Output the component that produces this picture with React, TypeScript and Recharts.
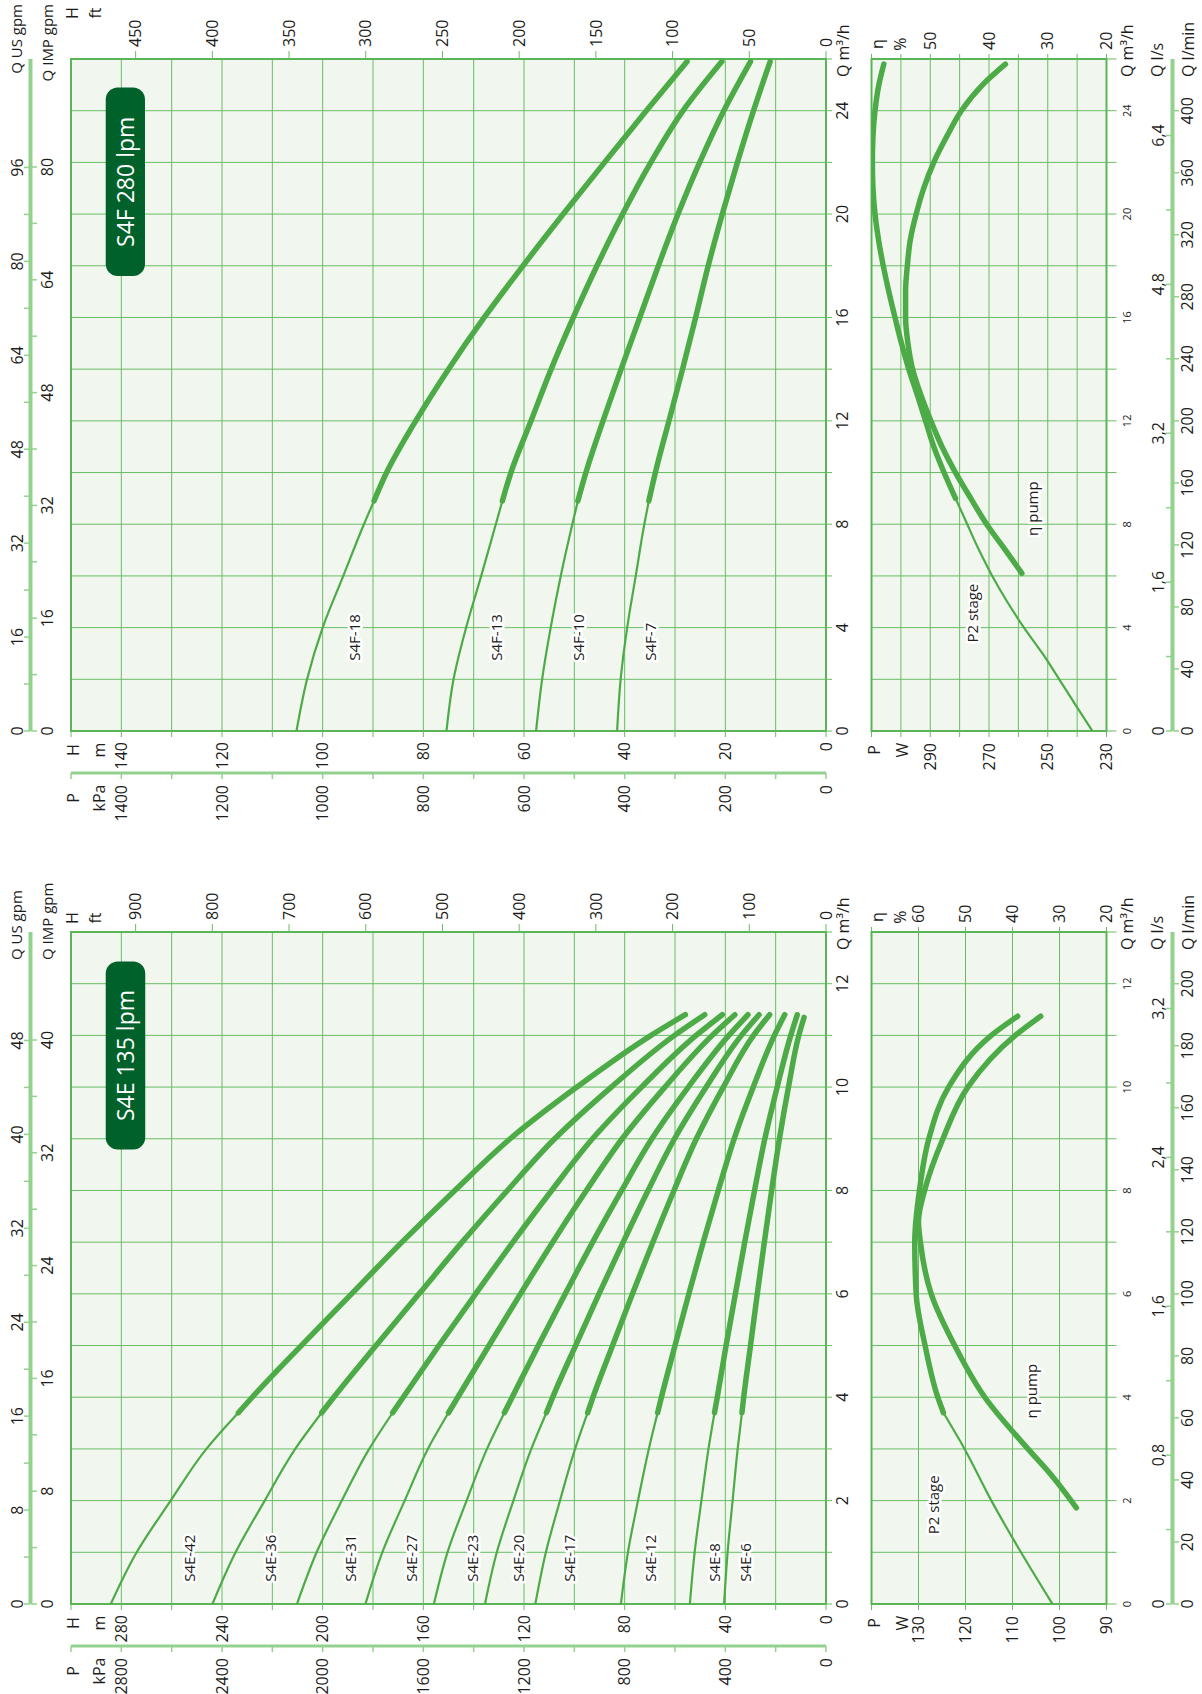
import React from 'react';
import {
  ComposedChart,
  LineChart,
  Line,
  XAxis,
  YAxis,
  CartesianGrid,
  ReferenceArea,
  ReferenceDot,
} from 'recharts';

type Pt = [number, number];

// the datasheet is laid out landscape and turned a quarter turn to the left
const PAGE_W = 1202;
const PAGE_H = 1694;
const SHEET_W = 1694;
const SHEET_H = 1202;

const H_TOP = 71;
const H_BOTTOM = 826;
const LOW_TOP = 871.5;
const LOW_BOTTOM = 1106.5;
const GPM_LINE = 30;
const FLOW_LINE = 1172;

const FONT = "'Open Sans', 'Noto Sans', 'DejaVu Sans', sans-serif";
const INK = '#1d1d1b';
const GREEN = '#4dab47';
const GRID = '#68bd63';
const FRAME = '#5ab556';
const STRIP = '#93d28e';
const PAPER = '#f1f7ef';
const BADGE = '#00622a';

const M3H_PER_USGPM = 0.22712;
const M3H_PER_IMPGPM = 0.27277;
const FT_PER_M = 3.28084;

// ---------------- S4E 135 lpm : H [m] over Q [m3/h] ----------------
const e42Thin: Pt[] = [[0, 284.2], [1, 273.9], [2, 260.4], [3, 246.2], [3.7, 233.5]];
const e42Thick: Pt[] = [[3.7, 233.5], [4, 228.0], [5, 208.5], [6, 188.5], [7, 168.5], [8, 147.5], [9, 125.5], [10, 99.0], [11, 69.5], [11.4, 55.9]];
const e36Thin: Pt[] = [[0, 243.8], [1, 234.6], [2, 223.0], [3, 210.9], [3.7, 200.4]];
const e36Thick: Pt[] = [[3.7, 200.4], [4, 195.6], [5, 178.8], [6, 161.7], [7, 144.6], [8, 126.6], [9, 107.8], [10, 85.3], [11, 60.2], [11.4, 48.2]];
const e31Thin: Pt[] = [[0, 210.2], [1, 202.4], [2, 192.4], [3, 181.5], [3.7, 172.2]];
const e31Thick: Pt[] = [[3.7, 172.2], [4, 168.0], [5, 153.8], [6, 139.2], [7, 124.4], [8, 109.0], [9, 92.8], [10, 73.3], [11, 51.6], [11.4, 41.2]];
const e27Thin: Pt[] = [[0, 183.0], [1, 176.3], [2, 167.4], [3, 158.2], [3.7, 150.0]];
const e27Thick: Pt[] = [[3.7, 150.0], [4, 146.3], [5, 133.9], [6, 121.4], [7, 108.6], [8, 95.2], [9, 81.0], [10, 64.0], [11, 45.2], [11.4, 36.2]];
const e23Thin: Pt[] = [[0, 155.8], [1, 150.4], [2, 142.8], [3, 134.7], [3.7, 127.8]];
const e23Thick: Pt[] = [[3.7, 127.8], [4, 124.7], [5, 114.3], [6, 103.6], [7, 92.7], [8, 81.2], [9, 69.2], [10, 54.7], [11, 38.6], [11.4, 31.0]];
const e20Thin: Pt[] = [[0, 135.5], [1, 130.8], [2, 124.2], [3, 117.1], [3.7, 111.1]];
const e20Thick: Pt[] = [[3.7, 111.1], [4, 108.6], [5, 99.5], [6, 90.2], [7, 80.6], [8, 70.7], [9, 60.2], [10, 47.6], [11, 33.6], [11.4, 26.6]];
const e17Thin: Pt[] = [[0, 115.5], [1, 111.3], [2, 105.7], [3, 99.7], [3.7, 94.7]];
const e17Thick: Pt[] = [[3.7, 94.7], [4, 92.6], [5, 84.8], [6, 76.9], [7, 68.8], [8, 60.4], [9, 51.5], [10, 40.8], [11, 28.8], [11.4, 22.4]];
const e12Thin: Pt[] = [[0, 81.5], [1, 78.7], [2, 74.7], [3, 70.4], [3.7, 66.9]];
const e12Thick: Pt[] = [[3.7, 66.9], [4, 65.4], [5, 60.0], [6, 54.5], [7, 48.8], [8, 42.8], [9, 36.5], [10, 28.9], [11, 20.5], [11.4, 16.4]];
const e8Thin: Pt[] = [[0, 54.1], [1, 52.2], [2, 49.5], [3, 46.7], [3.7, 44.3]];
const e8Thick: Pt[] = [[3.7, 44.3], [4, 43.2], [5, 39.7], [6, 36.0], [7, 32.3], [8, 28.4], [9, 24.3], [10, 19.4], [11, 14.0], [11.4, 11.4]];
const e6Thin: Pt[] = [[0, 40.5], [1, 39.1], [2, 37.1], [3, 35.1], [3.7, 33.4]];
const e6Thick: Pt[] = [[3.7, 33.4], [4, 32.7], [5, 30.0], [6, 27.3], [7, 24.5], [8, 21.6], [9, 18.5], [10, 14.9], [11, 10.8], [11.35, 8.7]];

const eNames = ['S4E-42', 'S4E-36', 'S4E-31', 'S4E-27', 'S4E-23', 'S4E-20', 'S4E-17', 'S4E-12', 'S4E-8', 'S4E-6'];
const eTagH = [253.1, 220.9, 189.2, 165.0, 140.7, 122.5, 102.1, 70.1, 44.7, 32.1];

// P2 stage [W] and pump efficiency [%]
const eP2Thin: Pt[] = [[0, 101.5], [1, 108.2], [2, 114.5], [3, 120.2], [3.7, 124.7]];
const eP2Thick: Pt[] = [[3.7, 124.7], [4, 125.9], [5, 128.6], [6, 130.5], [7, 130.8], [8, 129.8], [9, 127.8], [10, 123.6], [11, 114.5], [11.37, 108.9]];
const eEta: Pt[] = [[1.86, 26.4], [2.5, 31.8], [3, 36.7], [4, 45.9], [5, 52.3], [6, 57.3], [7, 59.6], [7.4, 60.0], [8, 58.7], [9, 54.8], [10, 49.5], [11, 39.4], [11.37, 34.0]];

const eQTicks = [0, 1, 2, 3, 4, 5, 6, 7, 8, 9, 10, 11, 12, 13];
const eQLabels = [0, 2, 4, 6, 8, 10, 12];
const eHTicks = [0, 20, 40, 60, 80, 100, 120, 140, 160, 180, 200, 220, 240, 260, 280, 300];
const eHLabels = [0, 40, 80, 120, 160, 200, 240, 280];
const eFtTicks = [0, 100, 200, 300, 400, 500, 600, 700, 800, 900];
const eKpaTicks = [0, 200, 400, 600, 800, 1000, 1200, 1400, 1600, 1800, 2000, 2200, 2400, 2600, 2800, 3000];
const eKpaLabels = [0, 400, 800, 1200, 1600, 2000, 2400, 2800];
const eUsTicks = [0, 4, 8, 12, 16, 20, 24, 28, 32, 36, 40, 44, 48];
const eUsLabels = [0, 8, 16, 24, 32, 40, 48];
const eImpTicks = [0, 4, 8, 12, 16, 20, 24, 28, 32, 36, 40];
const eImpLabels = [0, 8, 16, 24, 32, 40];
const eLsTicks = [0, 0.4, 0.8, 1.2, 1.6, 2.0, 2.4, 2.8, 3.2];
const eLsLabels = [0, 0.8, 1.6, 2.4, 3.2];
const eLminTicks = [0, 20, 40, 60, 80, 100, 120, 140, 160, 180, 200];
const eWTicks = [90, 100, 110, 120, 130, 140];
const eWLabels = [90, 100, 110, 120, 130];
const eEtaTicks = [20, 30, 40, 50, 60, 70];
const eEtaLabels = [20, 30, 40, 50, 60];

// ---------------- S4F 280 lpm ----------------
const f18Thin: Pt[] = [[0, 105.2], [2, 103.1], [4, 100.0], [6, 95.9], [8, 91.8], [8.9, 89.8]];
const f18Thick: Pt[] = [[8.9, 89.8], [10, 87.3], [12, 81.5], [14, 75.0], [16, 67.9], [18, 60.2], [20, 52.2], [22, 44.0], [24, 35.7], [25.9, 27.6]];
const f13Thin: Pt[] = [[0, 75.4], [2, 74.0], [4, 71.5], [6, 68.5], [8, 65.6], [8.9, 64.3]];
const f13Thick: Pt[] = [[8.9, 64.3], [10, 62.6], [12, 58.6], [14, 54.6], [16, 50.2], [18, 45.5], [20, 40.4], [22, 34.8], [24, 28.4], [25.9, 20.7]];
const f10Thin: Pt[] = [[0, 57.6], [2, 56.4], [4, 54.7], [6, 52.7], [8, 50.4], [8.9, 49.3]];
const f10Thick: Pt[] = [[8.9, 49.3], [10, 47.7], [12, 44.3], [14, 40.7], [16, 37.0], [18, 33.3], [20, 29.4], [22, 25.1], [24, 20.3], [25.9, 15.0]];
const f7Thin: Pt[] = [[0, 41.5], [2, 40.8], [4, 39.5], [6, 37.8], [8, 36.1], [8.9, 35.2]];
const f7Thick: Pt[] = [[8.9, 35.2], [10, 33.9], [12, 31.2], [14, 28.5], [16, 25.9], [18, 23.4], [20, 20.6], [22, 17.6], [24, 14.4], [25.9, 11.1]];

const fNames = ['S4F-18', 'S4F-13', 'S4F-10', 'S4F-7'];
const fTagH = [93.8, 65.5, 49.2, 34.9];

const fP2Thin: Pt[] = [[0, 234.8], [1, 240.5], [2, 246.1], [3, 251.8], [4, 258.1], [5, 263.8], [6, 268.9], [7, 273.4], [8, 277.4], [9, 281.4]];
const fP2Thick: Pt[] = [[9, 281.4], [10, 285.3], [11, 288.8], [12, 291.6], [13, 294.4], [14, 297.3], [15, 299.8], [16, 302.0], [17, 304.1], [18, 306.0], [19, 307.6], [20, 308.8], [21, 309.5], [22, 309.7], [23, 309.5], [24, 308.8], [25, 307.5], [25.8, 305.8]];
const fEta: Pt[] = [[6.1, 34.4], [7, 37.2], [8, 40.4], [9, 43.1], [10, 45.7], [11, 48.0], [12, 49.9], [13, 51.6], [14, 53.0], [15, 53.8], [16, 54.2], [17, 54.2], [18, 53.9], [19, 53.4], [20, 52.4], [21, 51.1], [22, 49.4], [23, 47.2], [24, 44.7], [25, 41.1], [25.8, 37.2]];

const fQTicks = [0, 2, 4, 6, 8, 10, 12, 14, 16, 18, 20, 22, 24, 26];
const fQLabels = [0, 4, 8, 12, 16, 20, 24];
const fHTicks = [0, 10, 20, 30, 40, 50, 60, 70, 80, 90, 100, 110, 120, 130, 140, 150];
const fHLabels = [0, 20, 40, 60, 80, 100, 120, 140];
const fFtTicks = [0, 50, 100, 150, 200, 250, 300, 350, 400, 450];
const fKpaTicks = [0, 100, 200, 300, 400, 500, 600, 700, 800, 900, 1000, 1100, 1200, 1300, 1400, 1500];
const fKpaLabels = [0, 200, 400, 600, 800, 1000, 1200, 1400];
const fUsTicks = [0, 8, 16, 24, 32, 40, 48, 56, 64, 72, 80, 88, 96];
const fUsLabels = [0, 16, 32, 48, 64, 80, 96];
const fImpTicks = [0, 8, 16, 24, 32, 40, 48, 56, 64, 72, 80];
const fImpLabels = [0, 16, 32, 48, 64, 80];
const fLsTicks = [0, 0.8, 1.6, 2.4, 3.2, 4.0, 4.8, 5.6, 6.4];
const fLsLabels = [0, 1.6, 3.2, 4.8, 6.4];
const fLminTicks = [0, 40, 80, 120, 160, 200, 240, 280, 320, 360, 400];
const fWTicks = [230, 240, 250, 260, 270, 280, 290, 300, 310];
const fWLabels = [230, 250, 270, 290];
const fEtaTicks = [20, 25, 30, 35, 40, 45, 50, 55, 60];
const fEtaLabels = [20, 30, 40, 50];

interface Curve { name: string; thin: Pt[]; thick: Pt[]; tagH: number }
interface Pump {
  title: string;
  left: number;
  right: number;
  gpmTextX: number;
  gpmAnchor: 'start' | 'end';
  ftHeadX: number;
  qMax: number;
  hMax: number;
  badge: [number, number, number, number];
  tagQ: number;
  curves: Curve[];
  qTicks: number[]; qLabels: number[];
  hTicks: number[]; hLabels: number[];
  ftTicks: number[];
  kpaTicks: number[]; kpaLabels: number[];
  usTicks: number[]; usLabels: number[];
  impTicks: number[]; impLabels: number[];
  lsTicks: number[]; lsLabels: number[];
  lminTicks: number[];
  wDomain: [number, number]; wTicks: number[]; wLabels: number[];
  etaDomain: [number, number]; etaTicks: number[]; etaLabels: number[];
  p2Thin: Pt[]; p2Thick: Pt[]; eta: Pt[];
  p2Tag: Pt; etaTag: Pt;
}

const pumpE: Pump = {
  title: 'S4E 135 lpm',
  left: 90, right: 762, gpmTextX: 734, gpmAnchor: 'start', ftHeadX: 776,
  qMax: 13, hMax: 300,
  badge: [8.79, 12.43, 270.5, 286.2],
  tagQ: 0.43,
  curves: [
    [e42Thin, e42Thick], [e36Thin, e36Thick], [e31Thin, e31Thick], [e27Thin, e27Thick], [e23Thin, e23Thick],
    [e20Thin, e20Thick], [e17Thin, e17Thick], [e12Thin, e12Thick], [e8Thin, e8Thick], [e6Thin, e6Thick],
  ].map(([thin, thick], i) => ({ name: eNames[i], thin, thick, tagH: eTagH[i] })),
  qTicks: eQTicks, qLabels: eQLabels,
  hTicks: eHTicks, hLabels: eHLabels,
  ftTicks: eFtTicks,
  kpaTicks: eKpaTicks, kpaLabels: eKpaLabels,
  usTicks: eUsTicks, usLabels: eUsLabels,
  impTicks: eImpTicks, impLabels: eImpLabels,
  lsTicks: eLsTicks, lsLabels: eLsLabels,
  lminTicks: eLminTicks,
  wDomain: [90, 140], wTicks: eWTicks, wLabels: eWLabels,
  etaDomain: [20, 70], etaTicks: eEtaTicks, etaLabels: eEtaLabels,
  p2Thin: eP2Thin, p2Thick: eP2Thick, eta: eEta,
  p2Tag: [1.35, 127.0], etaTag: [3.59, 36.1],
};

const pumpF: Pump = {
  title: 'S4F 280 lpm',
  left: 963, right: 1635, gpmTextX: 1690, gpmAnchor: 'end', ftHeadX: 1681,
  qMax: 26, hMax: 150,
  badge: [17.6, 24.9, 135.3, 143.1],
  tagQ: 2.72,
  curves: [[f18Thin, f18Thick], [f13Thin, f13Thick], [f10Thin, f10Thick], [f7Thin, f7Thick]]
    .map(([thin, thick], i) => ({ name: fNames[i], thin, thick, tagH: fTagH[i] })),
  qTicks: fQTicks, qLabels: fQLabels,
  hTicks: fHTicks, hLabels: fHLabels,
  ftTicks: fFtTicks,
  kpaTicks: fKpaTicks, kpaLabels: fKpaLabels,
  usTicks: fUsTicks, usLabels: fUsLabels,
  impTicks: fImpTicks, impLabels: fImpLabels,
  lsTicks: fLsTicks, lsLabels: fLsLabels,
  lminTicks: fLminTicks,
  wDomain: [230, 310], wTicks: fWTicks, wLabels: fWLabels,
  etaDomain: [20, 60], etaTicks: fEtaTicks, etaLabels: fEtaLabels,
  p2Thin: fP2Thin, p2Thick: fP2Thick, eta: fEta,
  p2Tag: [3.42, 275.7], etaTag: [7.55, 32.6],
};

const rows = (pts: Pt[]) => pts.map(([q, v]) => ({ q, v }));
const only = (labels: number[], fmt: (v: number) => string = String) => (v: number) =>
  labels.some((l) => Math.abs(l - v) < 1e-6) ? fmt(v) : '';
const comma = (v: number) => (v === 0 ? '0' : v.toFixed(1).replace('.', ','));

const layer: React.CSSProperties = { position: 'absolute', left: 0, top: 0 };
const tickText = { fontSize: 16, fill: INK, fontFamily: FONT };
const smallText = { fontSize: 11, fill: INK, fontFamily: FONT };
const gridTick = { stroke: GRID, strokeWidth: 1 };
const stripTick = { stroke: STRIP, strokeWidth: 1.5 };
const stripLine = { stroke: STRIP, strokeWidth: 3 };

function Tag(props: any) {
  const { viewBox, text } = props;
  const x = viewBox.x + (viewBox.width || 0) / 2;
  const y = viewBox.y + (viewBox.height || 0) / 2;
  return (
    <text x={x} y={y} dominantBaseline="central" textAnchor="start" fontSize={15} fontFamily={FONT}
      fill={INK} stroke="#fff" strokeWidth={5} strokeLinejoin="round" style={{ paintOrder: 'stroke' }}>
      {text}
    </text>
  );
}

function curveLines(id: string, yId: string, thin: Pt[] | null, thick: Pt[]) {
  const common = {
    xAxisId: 'q', yAxisId: yId, dataKey: 'v', type: 'monotone' as const, stroke: GREEN,
    dot: false, activeDot: false, isAnimationActive: false, strokeLinecap: 'round' as const,
  };
  const out = [<Line key={id + '-b'} {...common} data={rows(thick)} strokeWidth={5.5} />];
  if (thin) out.unshift(<Line key={id + '-a'} {...common} data={rows(thin)} strokeWidth={2.2} />);
  return out;
}

function HeadChart({ p }: { p: Pump }) {
  return (
    <div style={layer}>
      <ComposedChart width={SHEET_W} height={SHEET_H}
        margin={{ top: H_TOP, bottom: SHEET_H - H_BOTTOM - 30, left: p.left - 40, right: SHEET_W - p.right - 56 }}>
        <CartesianGrid xAxisId="q" yAxisId="m" stroke={GRID} fill={PAPER} fillOpacity={1} />
        <XAxis xAxisId="q" dataKey="q" type="number" domain={[0, p.qMax]} allowDataOverflow ticks={p.qTicks}
          interval={0} height={30} axisLine={false} tickLine={gridTick} tickSize={6} tickMargin={5}
          tick={tickText} tickFormatter={only(p.qLabels)} />
        <YAxis yAxisId="m" type="number" domain={[0, p.hMax]} allowDataOverflow ticks={p.hTicks} interval={0}
          width={40} axisLine={false} tickLine={gridTick} tickSize={6} tickMargin={5} tick={tickText}
          tickFormatter={only(p.hLabels)} />
        <YAxis yAxisId="ft" orientation="right" type="number" domain={[0, p.hMax * FT_PER_M]} allowDataOverflow
          ticks={p.ftTicks} interval={0} width={56} axisLine={false} tickLine={gridTick} tickSize={8}
          tickMargin={4} tick={tickText} />
        <ReferenceArea xAxisId="q" yAxisId="m" x1={0} x2={p.qMax} y1={0} y2={p.hMax} fill="none" fillOpacity={0}
          stroke={FRAME} strokeWidth={2} ifOverflow="visible" />
        <ReferenceArea xAxisId="q" yAxisId="m" x1={p.badge[0]} x2={p.badge[1]} y1={p.badge[2]} y2={p.badge[3]}
          fill={BADGE} fillOpacity={1} stroke="none" radius={12} ifOverflow="visible"
          label={{ value: p.title, position: 'center', fill: '#fff', fontSize: 23, fontFamily: FONT }} />
        {p.curves.flatMap((c) => curveLines(c.name, 'm', c.thin, c.thick))}
        {p.curves.map((c) => (
          <ReferenceDot key={c.name + '-tag'} xAxisId="q" yAxisId="m" x={p.tagQ} y={c.tagH} r={0}
            fill="none" stroke="none" label={<Tag text={c.name} />} />
        ))}
      </ComposedChart>
    </div>
  );
}

function LowerChart({ p }: { p: Pump }) {
  return (
    <div style={layer}>
      <ComposedChart width={SHEET_W} height={SHEET_H}
        margin={{ top: LOW_TOP, bottom: SHEET_H - LOW_BOTTOM - 30, left: p.left - 40, right: SHEET_W - p.right - 40 }}>
        <CartesianGrid xAxisId="q" yAxisId="w" stroke={GRID} fill={PAPER} fillOpacity={1} />
        <XAxis xAxisId="q" dataKey="q" type="number" domain={[0, p.qMax]} allowDataOverflow ticks={p.qTicks}
          interval={0} height={30} axisLine={false} tickLine={gridTick} tickSize={10} tickMargin={7}
          tick={smallText} tickFormatter={only(p.qLabels)} />
        <YAxis yAxisId="w" type="number" domain={p.wDomain} allowDataOverflow ticks={p.wTicks} interval={0}
          width={40} axisLine={false} tickLine={gridTick} tickSize={6} tickMargin={6} tick={tickText}
          tickFormatter={only(p.wLabels)} />
        <YAxis yAxisId="eta" orientation="right" type="number" domain={p.etaDomain} allowDataOverflow
          ticks={p.etaTicks} interval={0} width={40} axisLine={false} tickLine={gridTick} tickSize={5}
          tickMargin={4} tick={tickText} tickFormatter={only(p.etaLabels)} />
        <ReferenceArea xAxisId="q" yAxisId="w" x1={0} x2={p.qMax} y1={p.wDomain[0]} y2={p.wDomain[1]} fill="none"
          fillOpacity={0} stroke={FRAME} strokeWidth={2} ifOverflow="visible" />
        {curveLines('p2', 'w', p.p2Thin, p.p2Thick)}
        {curveLines('eta', 'eta', null, p.eta)}
        <ReferenceDot xAxisId="q" yAxisId="w" x={p.p2Tag[0]} y={p.p2Tag[1]} r={0} fill="none" stroke="none"
          label={<Tag text="P2 stage" />} />
        <ReferenceDot xAxisId="q" yAxisId="eta" x={p.etaTag[0]} y={p.etaTag[1]} r={0} fill="none" stroke="none"
          label={<Tag text="η pump" />} />
      </ComposedChart>
    </div>
  );
}

// single-line strip carrying two flow scales, one each side of the line
function FlowStrip({ y, topKey, topMax, topTicks, topFmt, botKey, botMax, botTicks, botFmt, p }: any) {
  const data = [{ [topKey]: 0, [botKey]: 0 }, { [topKey]: topMax, [botKey]: botMax }];
  const up = y === GPM_LINE ? 1 : 2;
  const down = y === GPM_LINE ? 5 : 3;
  return (
    <div style={layer}>
      <LineChart width={SHEET_W} height={SHEET_H} data={data}
        margin={{ top: y - 30, bottom: SHEET_H - y - 1 - 30, left: p.left, right: SHEET_W - p.right }}>
        <XAxis xAxisId={topKey} orientation="top" dataKey={topKey} type="number" domain={[0, topMax]}
          allowDataOverflow ticks={topTicks} interval={0} height={30} axisLine={stripLine} tickLine={stripTick}
          tickSize={6} tickMargin={up} tick={tickText} tickFormatter={topFmt} />
        <XAxis xAxisId={botKey} orientation="bottom" dataKey={botKey} type="number" domain={[0, botMax]}
          allowDataOverflow ticks={botTicks} interval={0} height={30} axisLine={stripLine} tickLine={stripTick}
          tickSize={6} tickMargin={down} tick={tickText} tickFormatter={botFmt} />
      </LineChart>
    </div>
  );
}

function KpaStrip({ p }: { p: Pump }) {
  const x = p.left - 42;
  const kMax = p.hMax * 10;
  return (
    <div style={layer}>
      <LineChart width={SHEET_W} height={SHEET_H} data={[{ kpa: 0 }, { kpa: kMax }]}
        margin={{ top: H_TOP, bottom: SHEET_H - H_BOTTOM, left: x - 60, right: SHEET_W - x - 1 }}>
        <YAxis yAxisId="kpa" dataKey="kpa" type="number" domain={[0, kMax]} allowDataOverflow ticks={p.kpaTicks}
          interval={0} width={60} axisLine={stripLine} tickLine={stripTick} tickSize={6} tickMargin={6}
          tick={tickText} tickFormatter={only(p.kpaLabels)} />
      </LineChart>
    </div>
  );
}

function Headers({ p }: { p: Pump }) {
  const L = p.left;
  const R = p.right;
  const t = (x: number, y: number, s: string, anchor: 'start' | 'middle' | 'end' = 'middle', size = 16) => (
    <text key={s + x + y} x={x} y={y} textAnchor={anchor} dominantBaseline="central" fontSize={size}
      fontFamily={FONT} fill={INK}>{s}</text>
  );
  return (
    <svg width={SHEET_W} height={SHEET_H} style={layer}>
      {t(p.gpmTextX, 16, 'Q US gpm', p.gpmAnchor, 15)}
      {t(p.gpmTextX, 47, 'Q IMP gpm', p.gpmAnchor, 15)}
      {t(p.ftHeadX, 72, 'H')}
      {t(p.ftHeadX, 95, 'ft')}
      {t(L - 19, 73, 'H')}
      {t(L - 19, 99, 'm')}
      {t(L - 67, 73, 'P')}
      {t(L - 67, 99, 'kPa')}
      {t(R - 18, 843, 'Q m³/h', 'start')}
      {t(R + 15, 877, 'η')}
      {t(R + 15, 900, '%')}
      {t(L - 19, 874, 'P')}
      {t(L - 19, 902, 'W')}
      {t(R - 18, 1127, 'Q m³/h', 'start')}
      {t(R - 18, 1157, 'Q l/s', 'start')}
      {t(R - 18, 1188, 'Q l/min', 'start')}
    </svg>
  );
}

function Panel({ p }: { p: Pump }) {
  return (
    <>
      <HeadChart p={p} />
      <LowerChart p={p} />
      <KpaStrip p={p} />
      <FlowStrip p={p} y={GPM_LINE}
        topKey="us" topMax={p.qMax / M3H_PER_USGPM} topTicks={p.usTicks} topFmt={only(p.usLabels)}
        botKey="imp" botMax={p.qMax / M3H_PER_IMPGPM} botTicks={p.impTicks} botFmt={only(p.impLabels)} />
      <FlowStrip p={p} y={FLOW_LINE}
        topKey="ls" topMax={p.qMax / 3.6} topTicks={p.lsTicks} topFmt={only(p.lsLabels, comma)}
        botKey="lmin" botMax={(p.qMax * 1000) / 60} botTicks={p.lminTicks} botFmt={only(p.lminTicks)} />
      <Headers p={p} />
    </>
  );
}

export default function App() {
  return (
    <div style={{ position: 'absolute', left: 0, top: 0, width: PAGE_W, height: PAGE_H, overflow: 'hidden', background: '#fff' }}>
      <div
        style={{
          position: 'absolute', left: 0, top: 0, width: SHEET_W, height: SHEET_H,
          transformOrigin: '0 0', transform: `translateY(${PAGE_H}px) rotate(-90deg)`, fontFamily: FONT,
        }}
      >
        <Panel p={pumpE} />
        <Panel p={pumpF} />
      </div>
    </div>
  );
}
